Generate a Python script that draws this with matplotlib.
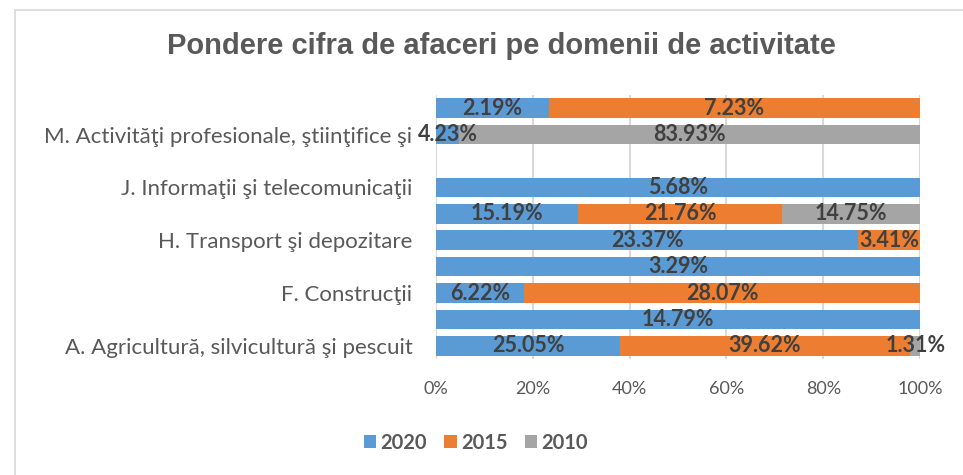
import numpy as np
import matplotlib
matplotlib.use("Agg")
from matplotlib import pyplot as plt
from matplotlib.patches import Rectangle

# categorii (de jos in sus), doar cele pare au eticheta vizibila
categories = [
    'A. Agricultură, silvicultură şi pescuit',
    'C. Industria prelucrătoare',
    'F. Construcţii',
    'G. Comerţ cu ridicata şi cu amănuntul',
    'H. Transport şi depozitare',
    'I. Hoteluri şi restaurante',
    'J. Informaţii şi telecomunicaţii',
    'L. Tranzacţii imobiliare',
    'M. Activităţi profesionale, ştiinţifice şi',
    'N. Activităţi de servicii administrative',
]
years = ['2020', '2015', '2010']
v2020 = [25.05, 14.79, 6.22, 3.29, 23.37, 15.19, 5.68, 0, 4.23, 2.19]
v2015 = [39.62, 0, 28.07, 0, 3.41, 21.76, 0, 0, 0, 7.23]
v2010 = [1.31, 0, 0, 0, 0, 14.75, 0, 0, 83.93, 0]
colors = ['#5B9BD5', '#ED7D31', '#A5A5A5']
x_ticks = [0, 20, 40, 60, 80, 100]

label_font = 'Lato'
text_gray = '#595959'
dark = '#404040'

data = np.array([v2020, v2015, v2010], dtype=float)
totals = data.sum(axis=0)
shares = np.divide(data * 100, totals, out=np.zeros_like(data), where=totals > 0)

fig = plt.figure(figsize=(9.63, 4.75), dpi=100)
# chenarul graficului
fig.patches.append(Rectangle((15 / 963, -0.1), 1.1, 1 - 10 / 475 + 0.1,
                             transform=fig.transFigure, fill=False,
                             edgecolor='#D9D9D9', linewidth=1.2))

ax = fig.add_axes([436 / 963, 1 - 359 / 475, 484 / 963, 264 / 475])
y = np.arange(len(categories))
left = np.zeros(len(categories))
for i, year in enumerate(years):
    bars = ax.barh(y, shares[i], left=left, height=0.74, color=colors[i],
                   label=year, zorder=3)
    labels = ['{:.2f}%'.format(v) if v > 0 else '' for v in data[i]]
    ax.bar_label(bars, labels=labels, label_type='center', color=dark,
                 fontsize=15.5, fontweight='bold', family=label_font, zorder=4)
    left += shares[i]

ax.set_xlim(0, 100)
ax.set_ylim(-0.5, len(categories) - 0.5)
ax.set_xticks(x_ticks)
ax.set_xticklabels(['{}%'.format(t) for t in x_ticks])
ax.set_yticks(y)
ax.set_yticklabels([c if i % 2 == 0 else '' for i, c in enumerate(categories)])
ax.tick_params(axis='both', length=0, labelcolor=text_gray)
ax.tick_params(axis='x', pad=16, labelsize=13)
ax.tick_params(axis='y', pad=17, labelsize=16)
for lab in ax.get_xticklabels() + ax.get_yticklabels():
    lab.set_family(label_font)
ax.grid(axis='x', color='#D9D9D9', linewidth=1.5, zorder=0)
for s in ax.spines.values():
    s.set_visible(False)

fig.text(501 / 963, 1 - 46 / 475, 'Pondere cifra de afaceri pe domenii de activitate',
         ha='center', va='center', fontsize=21, fontweight='bold',
         color=text_gray, family='Liberation Sans')

leg = fig.legend(loc='center', bbox_to_anchor=(476 / 963, 1 - 443 / 475), ncol=3,
                 frameon=False, handlelength=0.62, handleheight=0.62,
                 handletextpad=0.22, columnspacing=0.85,
                 prop={'family': label_font, 'weight': 'bold', 'size': 14.5})
for t in leg.get_texts():
    t.set_color(text_gray)

fig.savefig('out.png', dpi=100)
